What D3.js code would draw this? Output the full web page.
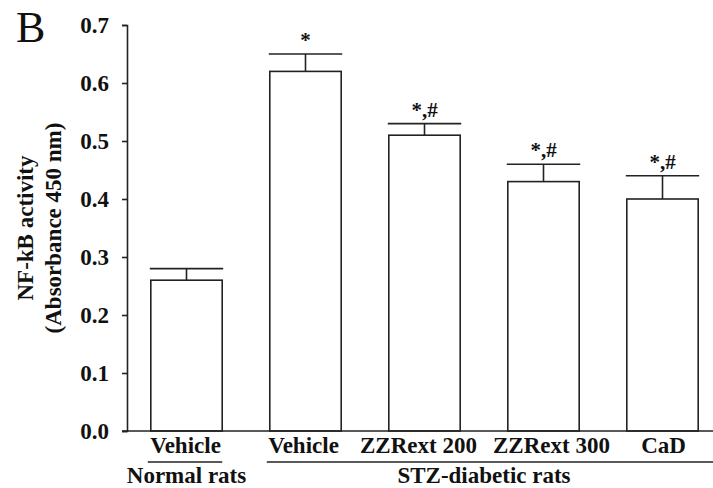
<!DOCTYPE html>
<html>
<head>
<meta charset="utf-8">
<script src="https://cdn.jsdelivr.net/npm/d3@7"></script>
<style>
  html, body { margin: 0; padding: 0; background: #fff; }
  svg { display: block; }
  text { font-family: "Liberation Serif", "Times New Roman", serif; fill: #111; }
</style>
</head>
<body>
<svg id="chart" width="713" height="488"></svg>
<script>
// NF-kB activity by treatment group
const categories = ["Vehicle", "Vehicle", "ZZRext 200", "ZZRext 300", "CaD"];
const groups = ["Normal rats", "STZ-diabetic rats", "STZ-diabetic rats", "STZ-diabetic rats", "STZ-diabetic rats"];
const means = [0.26, 0.62, 0.51, 0.43, 0.40];
const errors = [0.02, 0.03, 0.02, 0.03, 0.04];
const marks = ["", "*", "*,#", "*,#", "*,#"];
const yTicks = [0.0, 0.1, 0.2, 0.3, 0.4, 0.5, 0.6, 0.7];

const W = 713, H = 488;
const axisX = 127, baseY = 431, topY = 25;
const ink = "#222";
// horizontal nudges that keep the long category labels apart
const labelNudge = [-1, -2, -6, 8, 1];

const svg = d3.select("#chart");
const ids = d3.range(categories.length);

const x = d3.scaleBand().domain(ids).range([axisX, 722]).paddingInner(0.4).paddingOuter(0.2);
const y = d3.scaleLinear().domain([0, 0.7]).range([baseY, topY]);

// panel letter
svg.append("text").attr("x", 16).attr("y", 42)
  .style("font-size", "44px").text("B");

// y axis
const yAxis = svg.append("g").attr("transform", `translate(${axisX},0)`)
  .call(d3.axisLeft(y).tickValues(yTicks).tickFormat(d3.format(".1f")).tickSizeOuter(0).tickSize(5).tickPadding(13));
yAxis.select(".domain").attr("stroke", ink).attr("stroke-width", 1.6);
yAxis.selectAll(".tick line").attr("stroke", ink).attr("stroke-width", 1.6);
yAxis.selectAll(".tick text")
  .style("font-family", "'Liberation Serif', serif")
  .style("font-size", "23px").style("font-weight", "bold").attr("fill", "#111");

// y axis title (two lines)
const yTitle = svg.append("text")
  .attr("transform", "translate(0,228) rotate(-90)")
  .attr("text-anchor", "middle")
  .style("font-size", "23px").style("font-weight", "bold");
yTitle.append("tspan").attr("x", 0).attr("y", 33).text("NF-kB activity");
yTitle.append("tspan").attr("x", 0).attr("y", 61).text("(Absorbance 450 nm)");

// bars
svg.append("g").selectAll("rect").data(ids).join("rect")
  .attr("x", i => x(i))
  .attr("y", i => y(means[i]))
  .attr("width", x.bandwidth())
  .attr("height", i => y(0) - y(means[i]))
  .attr("fill", "#fff").attr("stroke", ink).attr("stroke-width", 1.6);

// error bars (upper only) with caps the width of the bar
const eb = svg.append("g").attr("stroke", ink).attr("stroke-width", 1.6);
eb.selectAll("line.v").data(ids).join("line").attr("class", "v")
  .attr("x1", i => x(i) + x.bandwidth() / 2).attr("x2", i => x(i) + x.bandwidth() / 2)
  .attr("y1", i => y(means[i])).attr("y2", i => y(means[i] + errors[i]));
eb.selectAll("line.c").data(ids).join("line").attr("class", "c")
  .attr("x1", i => x(i) - 1).attr("x2", i => x(i) + x.bandwidth() + 1)
  .attr("y1", i => y(means[i] + errors[i])).attr("y2", i => y(means[i] + errors[i]));

// significance marks
svg.append("g").selectAll("text").data(ids.filter(i => marks[i])).join("text")
  .attr("x", i => x(i) + x.bandwidth() / 2)
  .attr("y", i => y(means[i] + errors[i]) - 7)
  .attr("text-anchor", "middle")
  .style("font-size", "21px").style("font-weight", "bold")
  .text(i => marks[i]);

// x axis baseline
svg.append("line").attr("x1", axisX - 5).attr("x2", W)
  .attr("y1", baseY).attr("y2", baseY)
  .attr("stroke", ink).attr("stroke-width", 1.6);

// category labels
svg.append("g").selectAll("text").data(ids).join("text")
  .attr("x", i => x(i) + x.bandwidth() / 2 + labelNudge[i])
  .attr("y", 453)
  .attr("text-anchor", "middle")
  .style("font-size", "23px").style("font-weight", "bold")
  .text(i => categories[i]);

// group underlines and labels
const groupNames = Array.from(new Set(groups));
groupNames.forEach((g, gi) => {
  const members = ids.filter(i => groups[i] === g);
  const first = members[0], last = members[members.length - 1];
  const left = x(first) - 3;
  const right = gi === groupNames.length - 1 ? W : x(last) + x.bandwidth();
  svg.append("line").attr("x1", left).attr("x2", right)
    .attr("y1", 462).attr("y2", 462)
    .attr("stroke", ink).attr("stroke-width", 1.6);
  const cx = (x(first) + x(last) + x.bandwidth()) / 2;
  svg.append("text").attr("x", cx).attr("y", 483)
    .attr("text-anchor", "middle")
    .style("font-size", "23px").style("font-weight", "bold")
    .text(g);
});
</script>
</body>
</html>
